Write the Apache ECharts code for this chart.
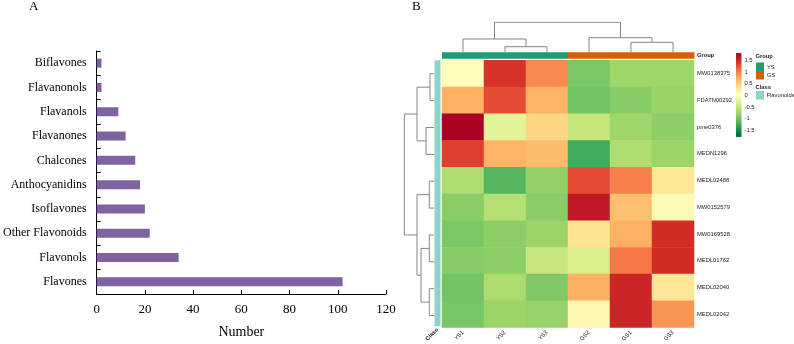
<!DOCTYPE html>
<html><head><meta charset="utf-8">
<script src="https://cdn.jsdelivr.net/npm/echarts@6/dist/echarts.min.js"></script>
<style>html,body{margin:0;padding:0;background:#fff}#c{width:794px;height:344px}</style>
</head><body><div id="c"></div>
<script>
// ---- Panel A data ----
const classCategories = ['Biflavones','Flavanonols','Flavanols','Flavanones','Chalcones','Anthocyanidins','Isoflavones','Other Flavonoids','Flavonols','Flavones'];
const classCounts = [2, 2, 9, 12, 16, 18, 20, 22, 34, 102];
const countAxisMax = 120;
const countAxisStep = 20;

// ---- Panel B data ----
const sampleCols = ['YS1','YS2','YS3','GS2','GS1','GS3'];
const sampleGroups = ['YS','YS','YS','GS','GS','GS'];
const metaboliteRows = ['MW0138375','FDATN00292','pme0376','MEDN1296','MEDL02488','MW0152579','MW0169528','MEDL01762','MEDL02040','MEDL02042'];
const rowClasses = ['Flavonoids','Flavonoids','Flavonoids','Flavonoids','Flavonoids','Flavonoids','Flavonoids','Flavonoids','Flavonoids','Flavonoids'];
const zscores = [
  [ 0.05,  1.45,  0.95, -0.95, -0.75, -0.75],
  [ 0.73,  1.30,  0.70, -1.00, -0.88, -0.78],
  [ 1.80, -0.25,  0.45, -0.50, -0.75, -0.85],
  [ 1.38,  0.70,  0.65, -1.25, -0.65, -0.77],
  [-0.65, -1.15, -0.82,  1.30,  1.00,  0.30],
  [-0.87, -0.60, -0.87,  1.65,  0.62,  0.08],
  [-0.95, -0.85, -0.77,  0.33,  0.73,  1.50],
  [-0.88, -0.85, -0.48, -0.36,  1.05,  1.50],
  [-1.00, -0.67, -0.92,  0.73,  1.55,  0.30],
  [-0.97, -0.77, -0.80,  0.10,  1.55,  0.88]
];
// hclust-style merges: [childA, childB, height]; numbers = leaf index, 'mK' = K-th merge
const colMerges = [[1, 2, 5.3], [0, 'm0', 13], [4, 5, 9.7], [3, 'm2', 14.3], ['m1', 'm3', 29.7]];
const rowMerges = [[0, 1, 4], [2, 3, 8], ['m0', 'm1', 17], [4, 5, 4.7], [6, 7, 4.7], [8, 9, 4.7], ['m4', 'm5', 13], ['m3', 'm6', 17], ['m2', 'm7', 29.7]];
const colorTicks = [-1.5, -1, -0.5, 0, 0.5, 1, 1.5];
const scaleMin = -1.8, scaleMax = 1.83;

const palette = ['#006837','#1a9850','#66bd63','#a6d96a','#d9ef8b','#ffffbf','#fee08b','#fdae61','#f46d43','#d73027','#a50026'];
const groupColors = {YS: '#1b9e77', GS: '#d95f02'};
const classColors = {Flavonoids: '#8ed3c8'};

function dendroSegments(merges) {
  const pos = {}, hgt = {};
  const get = k => typeof k === 'number' ? [k + 0.5, 0] : [pos[k], hgt[k]];
  return merges.map((m, i) => {
    const [a, b, h] = m;
    const [xa, ha] = get(a), [xb, hb] = get(b);
    pos['m' + i] = (xa + xb) / 2; hgt['m' + i] = h;
    return [[xa, ha], [xa, h], [xb, h], [xb, hb]];
  });
}

const serif = 'Liberation Serif';
const sans = 'Liberation Sans';
const dendroColor = '#858585';
const hidden = {show: false};

const chart = echarts.init(document.getElementById('c'), null, {renderer: 'canvas'});

const series = [];
// Bar chart
series.push({
  type: 'bar', xAxisIndex: 0, yAxisIndex: 0, data: classCounts,
  barWidth: 9, itemStyle: {color: '#7e62a2'}, silent: true
});
// Column dendrogram
dendroSegments(colMerges).forEach(seg => series.push({
  type: 'line', xAxisIndex: 1, yAxisIndex: 1, data: seg, symbol: 'none', silent: true,
  lineStyle: {color: dendroColor, width: 1}
}));
// Row dendrogram (x = height, y = position)
dendroSegments(rowMerges).forEach(seg => series.push({
  type: 'line', xAxisIndex: 2, yAxisIndex: 2, data: seg.map(p => [p[1], p[0]]), symbol: 'none', silent: true,
  lineStyle: {color: dendroColor, width: 1}
}));
// Group annotation bar
series.push({
  type: 'custom', xAxisIndex: 3, yAxisIndex: 3, silent: true,
  data: sampleCols.map((c, i) => [i, 0]),
  renderItem: (params, api) => {
    const c = api.coord([api.value(0), api.value(1)]);
    const s = api.size([1, 1]);
    return {type: 'rect', shape: {x: c[0] - s[0] / 2, y: c[1] - s[1] / 2, width: s[0] + 0.5, height: s[1]},
      style: {fill: groupColors[sampleGroups[params.dataIndex]]}};
  }
});
// Class annotation bar
series.push({
  type: 'custom', xAxisIndex: 4, yAxisIndex: 4, silent: true,
  data: metaboliteRows.map((r, i) => [0, i]),
  renderItem: (params, api) => {
    const c = api.coord([api.value(0), api.value(1)]);
    const s = api.size([1, 1]);
    return {type: 'rect', shape: {x: c[0] - s[0] / 2, y: c[1] - s[1] / 2, width: s[0], height: s[1] + 0.5},
      style: {fill: classColors[rowClasses[params.dataIndex]]}};
  }
});
// Heatmap
const heatData = [];
zscores.forEach((row, r) => row.forEach((v, c) => heatData.push([c, r, v])));
const heatIndex = series.length;
series.push({
  type: 'heatmap', xAxisIndex: 5, yAxisIndex: 5, data: heatData, silent: true,
  itemStyle: {borderWidth: 0}
});
// Colour bar
series.push({
  type: 'custom', xAxisIndex: 6, yAxisIndex: 6, silent: true, clip: false,
  data: [[0, scaleMin, scaleMax]],
  renderItem: (params, api) => {
    const top = api.coord([0, api.value(2)]);
    const bot = api.coord([1, api.value(1)]);
    const stops = palette.map((col, i) => ({offset: i / (palette.length - 1), color: palette[palette.length - 1 - i]}));
    return {type: 'rect', shape: {x: top[0], y: top[1], width: bot[0] - top[0], height: bot[1] - top[1]},
      style: {fill: new echarts.graphic.LinearGradient(0, 0, 0, 1, stops)}};
  }
});

const smallLabel = {fontFamily: sans, fontSize: 5.8, color: '#222'};
const axisBlack = {show: true, lineStyle: {color: '#000', width: 1}};
const tickBlack = {show: true, inside: true, length: 4, lineStyle: {color: '#000', width: 1}};

const option = {
  animation: false,
  backgroundColor: '#fff',
  grid: [
    {left: 94, top: 51, width: 292, height: 244},
    {left: 442, top: 22, width: 252, height: 30},
    {left: 404, top: 60.3, width: 30, height: 268.7},
    {left: 442, top: 52.3, width: 252, height: 6.5},
    {left: 434.5, top: 60.3, width: 6, height: 268.7},
    {left: 442, top: 60.3, width: 252, height: 268.7},
    {left: 736, top: 60.7, width: 5.5, height: 69.3}
  ],
  xAxis: [
    {gridIndex: 0, type: 'value', min: 0, max: countAxisMax, interval: countAxisStep,
     name: 'Number', nameLocation: 'middle', nameGap: 31,
     nameTextStyle: {fontFamily: serif, fontSize: 14, color: '#000'},
     axisLine: axisBlack, axisTick: tickBlack,
     axisLabel: {fontFamily: serif, fontSize: 13, color: '#000', margin: 9},
     splitLine: hidden},
    {gridIndex: 1, type: 'value', min: 0, max: sampleCols.length, show: false},
    {gridIndex: 2, type: 'value', min: 0, max: 30, inverse: true, show: false},
    {gridIndex: 3, type: 'category', data: sampleCols, show: false},
    {gridIndex: 4, type: 'category', data: ['Class'],
     axisLine: hidden, axisTick: hidden,
     axisLabel: Object.assign({}, smallLabel, {rotate: 45, margin: 3, fontWeight: 'bold'})},
    {gridIndex: 5, type: 'category', data: sampleCols,
     axisLine: hidden, axisTick: hidden,
     axisLabel: Object.assign({}, smallLabel, {rotate: 45, margin: 4})},
    {gridIndex: 6, type: 'value', min: 0, max: 1, show: false}
  ],
  yAxis: [
    {gridIndex: 0, type: 'category', data: classCategories, inverse: true,
     axisLine: axisBlack, axisTick: tickBlack,
     axisLabel: {fontFamily: serif, fontSize: 12, color: '#000', margin: 10}},
    {gridIndex: 1, type: 'value', min: 0, max: 30, show: false},
    {gridIndex: 2, type: 'value', min: 0, max: metaboliteRows.length, inverse: true, show: false},
    {gridIndex: 3, type: 'category', data: ['Group'], position: 'right',
     axisLine: hidden, axisTick: hidden,
     axisLabel: Object.assign({}, smallLabel, {margin: 3, fontWeight: 'bold'})},
    {gridIndex: 4, type: 'category', data: metaboliteRows, inverse: true, show: false},
    {gridIndex: 5, type: 'category', data: metaboliteRows, inverse: true, position: 'right',
     axisLine: hidden, axisTick: hidden,
     axisLabel: Object.assign({}, smallLabel, {margin: 3})},
    {gridIndex: 6, type: 'value', min: colorTicks[0], max: colorTicks[colorTicks.length - 1], interval: 0.5,
     position: 'right', axisLine: hidden, axisTick: hidden, splitLine: hidden,
     axisLabel: Object.assign({}, smallLabel, {fontSize: 5.8, margin: 3})}
  ],
  visualMap: [{
    type: 'continuous', show: false, seriesIndex: heatIndex, min: scaleMin, max: scaleMax,
    dimension: 2, inRange: {color: palette}
  }],
  graphic: [
    {type: 'text', left: 29, top: 0, style: {text: 'A', font: '13px "Liberation Serif"', fill: '#000'}},
    {type: 'text', left: 412, top: 0, style: {text: 'B', font: '13px "Liberation Serif"', fill: '#000'}},
    {type: 'text', left: 755.5, top: 53.5, style: {text: 'Group', font: 'bold 5.8px "Liberation Sans"', fill: '#222'}},
    {type: 'rect', shape: {x: 756, y: 62.5, width: 8, height: 8.5}, style: {fill: groupColors.YS}},
    {type: 'rect', shape: {x: 756, y: 71, width: 8, height: 8.5}, style: {fill: groupColors.GS}},
    {type: 'text', left: 767, top: 64, style: {text: 'YS', font: '5.8px "Liberation Sans"', fill: '#222'}},
    {type: 'text', left: 767, top: 72.5, style: {text: 'GS', font: '5.8px "Liberation Sans"', fill: '#222'}},
    {type: 'text', left: 755.5, top: 84, style: {text: 'Class', font: 'bold 5.8px "Liberation Sans"', fill: '#222'}},
    {type: 'rect', shape: {x: 756, y: 91, width: 8, height: 8.5}, style: {fill: classColors.Flavonoids}},
    {type: 'text', left: 766.5, top: 92.5, style: {text: 'Flavonoids', font: '5.8px "Liberation Sans"', fill: '#222'}}
  ],
  series: series
};
chart.setOption(option);
</script>
</body></html>
